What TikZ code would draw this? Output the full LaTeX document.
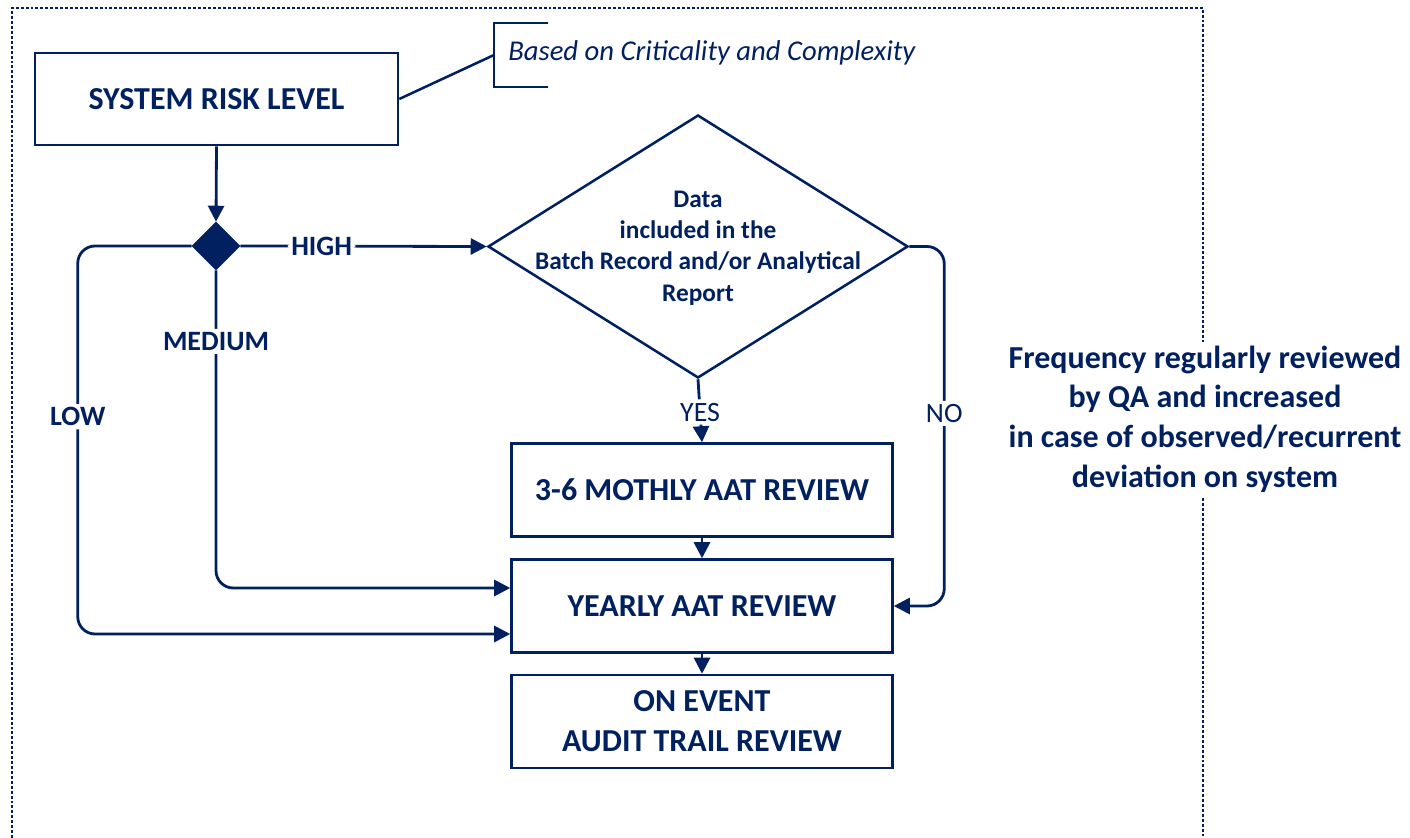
\documentclass[tikz,border=0pt]{standalone}
\usepackage{fontspec}
\setmainfont{Carlito}
\usetikzlibrary{shapes.geometric,arrows.meta,calc}
\definecolor{navy}{RGB}{0,32,96}
\begin{document}
\begin{tikzpicture}[x=0.75pt,y=-0.75pt,
  every node/.style={text=navy},
  box/.style={draw=navy,line width=1.9pt,rectangle,inner sep=0pt,font=\fontsize{24}{30}\selectfont\bfseries,align=center},
  bigbox/.style={box,minimum width=272.25pt,minimum height=69pt},
  revbox/.style={box,minimum width=285.75pt,minimum height=69.75pt},
  conn/.style={draw=navy,line width=2.1pt,rounded corners=13pt},
  arr/.style={conn,-{Triangle[length=12pt,width=12pt]}},
  lbl/.style={fill=white,inner sep=2.5pt,font=\fontsize{21}{25}\selectfont\bfseries},
  lbln/.style={fill=white,inner sep=2.5pt,font=\fontsize{21}{25}\selectfont},
  frame/.style={draw=navy,line width=1.8pt,dash pattern=on 2.2pt off 1.5pt}
]
\useasboundingbox (0,0) rectangle (1410,838);
% dotted frame
\draw[frame] (12,838) -- (12,8) -- (1203,8) -- (1203,838);

% nodes
\node[bigbox] (srl) at (216.5,99) {SYSTEM RISK LEVEL};
\node[diamond,fill=navy,draw=navy,minimum width=36pt,minimum height=36pt,inner sep=0pt] (dia) at (216,246) {};
\node[diamond,draw=navy,line width=1.9pt,minimum width=315pt,minimum height=197.25pt,inner sep=0pt] (dec) at (698,246.5) {};
\node[align=center,font=\fontsize{19}{23.4}\selectfont\bfseries] (dectext) at (698,248) {Data\\included in the\\Batch Record and/or Analytical\\Report};
\node[revbox] (m36) at (702,490) {3-6 MOTHLY AAT REVIEW};
\node[revbox] (year) at (702,606) {YEARLY AAT REVIEW};
\node[revbox] (event) at (702,721.5) {ON EVENT\\AUDIT TRAIL REVIEW};

% annotation
\node[anchor=west,font=\fontsize{21.5}{25}\selectfont\itshape,inner sep=0pt] (note) at (508,53) {Based on Criticality and Complexity};
\coordinate (brk) at (494,55);
\draw[navy,line width=1.9pt] ($(brk)+(54,-32)$) -- ($(brk)+(0,-32)$) -- ($(brk)+(0,32)$) -- ($(brk)+(54,32)$);
\draw[navy,line width=1.9pt] (srl.east) -- (brk);

% side text
\node[align=center,fill=white,inner sep=3pt,font=\fontsize{24}{29.8}\selectfont\bfseries] (freq) at (1205,419) {Frequency regularly reviewed\\by QA and increased\\in case of observed/recurrent\\deviation on system};

% connectors
\draw[arr] (srl.south) -- (dia.north);
\draw[arr] (dia.east) -- node[lbl,pos=0.33] {HIGH} (dec.west);
\draw[arr] (dec.south) -- node[lbln,pos=0.52] {YES} (m36.north);
\draw[arr] (dec.east) -- ++(35,0) |- node[lbln,pos=0.232] {NO} (year.east);
\draw[arr] (dia.south) |- node[lbl,pos=0.112] {MEDIUM} ($(year.west)+(0,-18)$);
\draw[arr] (dia.west) -- ++(-114,0) |- node[lbl,pos=0.22] {LOW} ($(year.west)+(0,28)$);
\draw[arr] (m36.south) -- (year.north);
\draw[arr] (year.south) -- (event.north);
\end{tikzpicture}
\end{document}
